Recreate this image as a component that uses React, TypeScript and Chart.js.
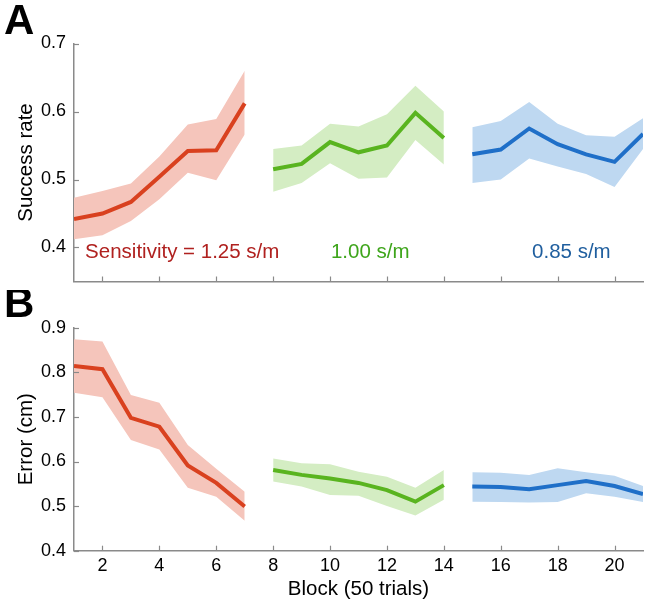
import React, { useEffect, useRef } from "react";
import { Chart, registerables } from "chart.js";

Chart.register(...registerables);

// ---------------- DATA ----------------
const blocks125 = [1, 2, 3, 4, 5, 6, 7];
const blocks100 = [8, 9, 10, 11, 12, 13, 14];
const blocks085 = [15, 16, 17, 18, 19, 20, 21];

// Panel A: success rate
const srMean125 = [0.442, 0.45, 0.467, 0.504, 0.542, 0.543, 0.612];
const srUpper125 = [0.473, 0.483, 0.494, 0.534, 0.581, 0.589, 0.66];
const srLower125 = [0.412, 0.418, 0.439, 0.471, 0.51, 0.499, 0.566];

const srMean100 = [0.515, 0.523, 0.555, 0.54, 0.55, 0.598, 0.561];
const srUpper100 = [0.545, 0.55, 0.582, 0.578, 0.596, 0.638, 0.6];
const srLower100 = [0.482, 0.495, 0.524, 0.501, 0.503, 0.558, 0.522];

const srMean085 = [0.537, 0.544, 0.575, 0.552, 0.537, 0.526, 0.567];
const srUpper085 = [0.577, 0.586, 0.614, 0.582, 0.565, 0.563, 0.59];
const srLower085 = [0.495, 0.5, 0.531, 0.519, 0.508, 0.489, 0.545];

// Panel B: error (cm)
const errMean125 = [0.814, 0.807, 0.698, 0.678, 0.591, 0.552, 0.499];
const errUpper125 = [0.874, 0.869, 0.749, 0.732, 0.637, 0.584, 0.532];
const errLower125 = [0.754, 0.744, 0.648, 0.627, 0.541, 0.521, 0.467];

const errMean100 = [0.581, 0.57, 0.562, 0.552, 0.536, 0.51, 0.547];
const errUpper100 = [0.607, 0.596, 0.594, 0.577, 0.566, 0.541, 0.581];
const errLower100 = [0.555, 0.544, 0.525, 0.523, 0.5, 0.479, 0.514];

const errMean085 = [0.544, 0.543, 0.538, 0.547, 0.556, 0.545, 0.527];
const errUpper085 = [0.576, 0.575, 0.57, 0.585, 0.576, 0.568, 0.545];
const errLower085 = [0.51, 0.509, 0.508, 0.509, 0.529, 0.521, 0.509];

// Ticks and labels
const xTicks = [2, 4, 6, 8, 10, 12, 14, 16, 18, 20];
const srTicks = [0.4, 0.5, 0.6, 0.7];
const errTicks = [0.4, 0.5, 0.6, 0.7, 0.8, 0.9];
const sensitivityLabels = ["Sensitivity = 1.25 s/m", "1.00 s/m", "0.85 s/m"];
const sensitivityLabelX = [1.39, 10.03, 17.1];
const sensitivityLabelY = 0.393;

// ---------------- STYLE ----------------
const FONT = "'Liberation Sans', Arial, Helvetica, sans-serif";
const AXIS_COLOR = "#8a8a8a";
const LINE_COLORS = ["#d9411f", "#59b41f", "#1f6fc8"];
const BAND_COLORS = ["#f5c5bb", "#d4edc3", "#bed8f1"];
const LABEL_COLORS = ["#b0211f", "#3ea51b", "#1f5e9e"];

const pts = (xs: number[], ys: number[]) => xs.map((x, i) => ({ x, y: ys[i] }));

function seriesDatasets(xs: number[], mean: number[], upper: number[], lower: number[], idx: number) {
  return [
    {
      data: pts(xs, lower),
      borderWidth: 0,
      pointRadius: 0,
      fill: false,
      order: 2,
      backgroundColor: BAND_COLORS[idx],
      borderColor: "rgba(0,0,0,0)",
    },
    {
      data: pts(xs, upper),
      borderWidth: 0,
      pointRadius: 0,
      fill: "-1",
      order: 2,
      backgroundColor: BAND_COLORS[idx],
      borderColor: "rgba(0,0,0,0)",
    },
    {
      data: pts(xs, mean),
      borderWidth: 4,
      pointRadius: 0,
      fill: false,
      order: 0,
      borderColor: LINE_COLORS[idx],
      backgroundColor: LINE_COLORS[idx],
    },
  ];
}

const decorPlugin = {
  id: "decor",
  afterDraw(chart: any, _args: any, opts: any) {
    const ctx = chart.ctx;
    const area = chart.chartArea;
    const xs = chart.scales.x;
    const ys = chart.scales.y;
    ctx.save();
    ctx.strokeStyle = AXIS_COLOR;
    ctx.lineWidth = 1.2;
    xTicks.forEach((v) => {
      const px = Math.round(xs.getPixelForValue(v)) + 0.5;
      ctx.beginPath();
      ctx.moveTo(px, area.bottom);
      ctx.lineTo(px, area.bottom - 5);
      ctx.stroke();
    });
    (opts.yTicks || []).forEach((v: number) => {
      const py = Math.round(ys.getPixelForValue(v)) + 0.5;
      ctx.beginPath();
      ctx.moveTo(area.left, py);
      ctx.lineTo(area.left + 5, py);
      ctx.stroke();
    });
    if (opts.letter) {
      ctx.fillStyle = "#000";
      ctx.font = `bold 42px ${FONT}`;
      ctx.textAlign = "left";
      ctx.textBaseline = "alphabetic";
      ctx.fillText(opts.letter, opts.letterX, opts.letterY);
    }
    if (opts.annotations) {
      ctx.font = `20.5px ${FONT}`;
      ctx.textAlign = "left";
      ctx.textBaseline = "middle";
      sensitivityLabels.forEach((t, i) => {
        ctx.fillStyle = LABEL_COLORS[i];
        ctx.fillText(t, xs.getPixelForValue(sensitivityLabelX[i]), ys.getPixelForValue(sensitivityLabelY));
      });
    }
    ctx.restore();
  },
};

function buildConfig(opts: {
  datasets: any[];
  yMin: number;
  yMax: number;
  yTicks: number[];
  yTitle: string;
  showX: boolean;
  padTop: number;
  xHeight: number;
  letter: string;
  letterY: number;
  annotations: boolean;
}) {
  return {
    type: "line" as const,
    data: { datasets: opts.datasets },
    options: {
      animation: false,
      responsive: false,
      maintainAspectRatio: false,
      events: [],
      layout: { padding: { top: opts.padTop, right: 7, left: 0, bottom: 0 } },
      elements: { line: { tension: 0 } },
      plugins: {
        legend: { display: false },
        tooltip: { enabled: false },
        decor: {
          yTicks: opts.yTicks,
          letter: opts.letter,
          letterX: 4,
          letterY: opts.letterY,
          annotations: opts.annotations,
        },
      },
      scales: {
        x: {
          type: "linear",
          min: 1,
          max: 21,
          afterBuildTicks: (scale: any) => {
            scale.ticks = xTicks.map((v) => ({ value: v }));
          },
          afterFit: (scale: any) => {
            scale.height = opts.xHeight;
            scale.paddingLeft = 0;
            scale.paddingRight = 0;
            scale.paddingTop = 0;
            scale.paddingBottom = 0;
          },
          grid: { display: true, drawOnChartArea: false, drawTicks: false },
          border: { display: true, color: AXIS_COLOR, width: 1.5 },
          ticks: {
            display: opts.showX,
            padding: 5,
            color: "#000",
            font: { family: FONT, size: 18 },
            maxRotation: 0,
            autoSkip: false,
          },
          title: {
            display: opts.showX,
            text: "Block (50 trials)",
            color: "#000",
            font: { family: FONT, size: 20.5 },
            padding: { top: 0, bottom: 2 },
          },
        },
        y: {
          type: "linear",
          min: opts.yMin,
          max: opts.yMax,
          afterBuildTicks: (scale: any) => {
            scale.ticks = opts.yTicks.map((v) => ({ value: v }));
          },
          afterFit: (scale: any) => {
            scale.width = 74;
            scale.paddingLeft = 0;
            scale.paddingRight = 0;
            scale.paddingTop = 0;
            scale.paddingBottom = 0;
          },
          grid: { display: true, drawOnChartArea: false, drawTicks: false },
          border: { display: true, color: AXIS_COLOR, width: 1.5 },
          ticks: {
            padding: 8,
            color: "#000",
            font: { family: FONT, size: 18 },
            callback: (v: any) => Number(v).toFixed(1),
          },
          title: {
            display: true,
            text: opts.yTitle,
            color: "#000",
            font: { family: FONT, size: 20.5 },
            padding: { top: 14, bottom: 0 },
          },
        },
      },
    },
    plugins: [decorPlugin],
  };
}

export default function App() {
  const topRef = useRef<HTMLCanvasElement | null>(null);
  const botRef = useRef<HTMLCanvasElement | null>(null);

  useEffect(() => {
    const top = new Chart(
      topRef.current as HTMLCanvasElement,
      buildConfig({
        datasets: [
          ...seriesDatasets(blocks125, srMean125, srUpper125, srLower125, 0),
          ...seriesDatasets(blocks100, srMean100, srUpper100, srLower100, 1),
          ...seriesDatasets(blocks085, srMean085, srUpper085, srLower085, 2),
        ],
        yMin: 0.35,
        yMax: 0.7,
        yTicks: srTicks,
        yTitle: "Success rate",
        showX: false,
        padTop: 43.5,
        xHeight: 8.5,
        letter: "A",
        letterY: 34,
        annotations: true,
      }) as any
    );
    const bot = new Chart(
      botRef.current as HTMLCanvasElement,
      buildConfig({
        datasets: [
          ...seriesDatasets(blocks125, errMean125, errUpper125, errLower125, 0),
          ...seriesDatasets(blocks100, errMean100, errUpper100, errLower100, 1),
          ...seriesDatasets(blocks085, errMean085, errUpper085, errLower085, 2),
        ],
        yMin: 0.4,
        yMax: 0.9,
        yTicks: errTicks,
        yTitle: "Error (cm)",
        showX: true,
        padTop: 37.7,
        xHeight: 53.3,
        letter: "B",
        letterY: 27,
        annotations: false,
      }) as any
    );
    return () => {
      top.destroy();
      bot.destroy();
    };
  }, []);

  return (
    <div style={{ position: "absolute", left: 0, top: 0, width: 650, height: 604, background: "#fff" }}>
      <canvas ref={topRef} width={650} height={290} style={{ position: "absolute", left: 0, top: 0, width: 650, height: 290 }} />
      <canvas ref={botRef} width={650} height={314} style={{ position: "absolute", left: 0, top: 290, width: 650, height: 314 }} />
    </div>
  );
}
